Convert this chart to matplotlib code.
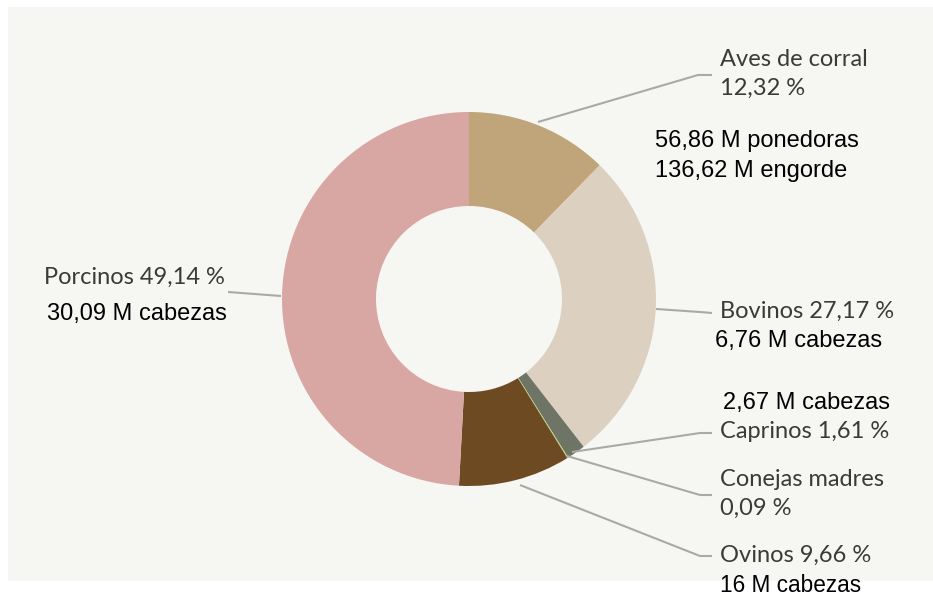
import matplotlib
matplotlib.use('Agg')
import matplotlib.pyplot as plt
from matplotlib.patches import Rectangle

# datos
categorias = ['Aves de corral', 'Bovinos', 'Caprinos', 'Conejas madres', 'Ovinos', 'Porcinos']
porcentajes = [12.32, 27.17, 1.61, 0.09, 9.66, 49.14]
colores = ['#c0a57b', '#dcd1c1', '#6f7566', '#b5d46a', '#6e4a23', '#d8a7a3']

etiquetas = ['Aves de corral\n12,32 %', 'Bovinos 27,17 %', 'Caprinos 1,61 %',
             'Conejas madres\n0,09 %', 'Ovinos 9,66 %', 'Porcinos 49,14 %']
cabezas = ['56,86 M ponedoras\n136,62 M engorde', '6,76 M cabezas', '2,67 M cabezas',
           '', '16 M cabezas', '30,09 M cabezas']

W, H = 933, 601
fig = plt.figure(figsize=(W / 100, H / 100), dpi=100)
fig.patch.set_facecolor('white')
ax = fig.add_axes([0, 0, 1, 1])

def Y(y):
    # coordenadas de pixel (desde arriba) -> datos
    return H - y

ax.add_patch(Rectangle((8, Y(581)), W - 8, 574, facecolor='#f6f6f2', edgecolor='none', zorder=0))

ax.pie(porcentajes, colors=colores, startangle=90, counterclock=False,
       center=(469, Y(299)), radius=187, frame=True,
       wedgeprops=dict(width=94, edgecolor='none', linewidth=0))
ax.set_xlim(0, W)
ax.set_ylim(0, H)
ax.set_aspect('equal')
ax.axis('off')

gris = '#a9a9a6'
lineas = [
    [(538, 122), (698, 75), (712, 75)],
    [(656, 309), (700, 312), (712, 313)],
    [(572, 452), (700, 433), (712, 433)],
    [(567, 456), (700, 495), (712, 495)],
    [(520, 485), (700, 556), (712, 556)],
    [(228, 292), (281, 296)],
]
for pts in lineas:
    ax.plot([p[0] for p in pts], [Y(p[1]) for p in pts], color=gris, lw=1.5, zorder=3,
            solid_capstyle='butt')

# etiquetas grises (una linea cada 28 px)
pos_etiquetas = [(720, 60), (720, 311), (720, 432), (720, 480), (720, 555), (44, 277)]
for txt, (x, y) in zip(etiquetas, pos_etiquetas):
    for i, linea in enumerate(txt.split('\n')):
        ax.text(x, Y(y + 28 * i), linea, ha='left', va='center',
                family='Lato', fontsize=17, color='#3a3a38')

# etiquetas negras
pos_cabezas = [(655, 141), (715, 341), (723, 403), None, (720, 586), (47, 314)]
tam_cabezas = [17, 17, 17, 0, 16.3, 17]
for txt, pos, fs in zip(cabezas, pos_cabezas, tam_cabezas):
    if pos is None or not txt:
        continue
    for i, linea in enumerate(txt.split('\n')):
        ax.text(pos[0], Y(pos[1] + 30 * i), linea, ha='left', va='center',
                family='Liberation Sans', fontsize=fs, color='black')

fig.savefig('out.png', dpi=100, facecolor='white')
